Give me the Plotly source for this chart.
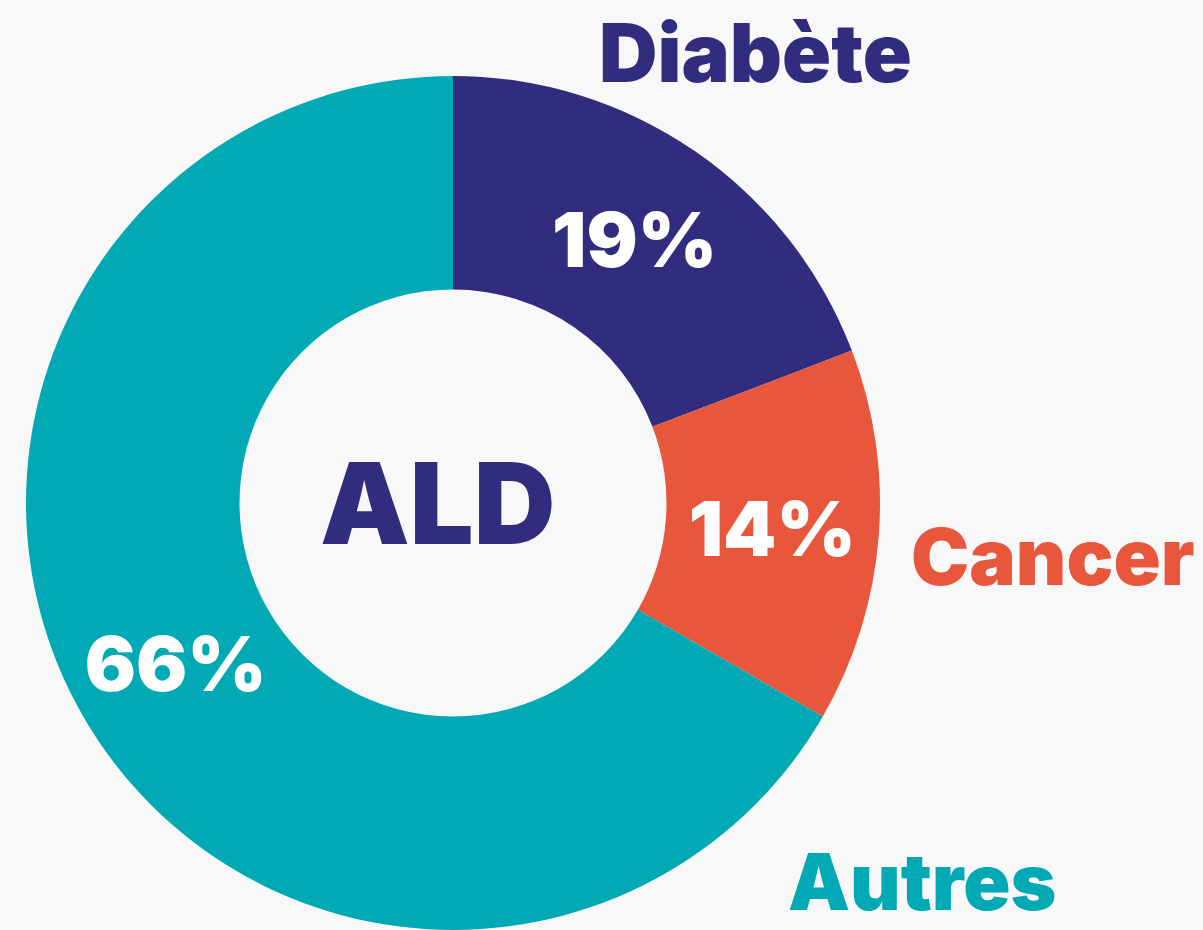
import plotly.graph_objects as go

categories = ["Diabète", "Cancer", "Autres"]
values = [19, 14, 66]
pct_labels = ["19%", "14%", "66%"]
colors = ["#322C7E", "#E8563C", "#00A9B4"]

W, H = 1203, 930
cx, cy, r = 453, 503, 427
FAM = "Inter"
WT = 900

fig = go.Figure(go.Pie(
    labels=categories,
    values=values,
    text=pct_labels,
    textinfo="text",
    textposition="inside",
    insidetextorientation="horizontal",
    hole=0.5,
    sort=False,
    direction="clockwise",
    rotation=0,
    marker=dict(colors=colors, line=dict(width=0)),
    textfont=dict(family=FAM, size=76, color="white", weight=WT),
    domain=dict(x=[(cx - r) / W, (cx + r) / W], y=[0, 2 * r / H]),
    showlegend=False,
    hoverinfo="label+text",
))

annots = [
    dict(text="ALD", x=437 / W, y=1 - 503 / H, size=113, color=colors[0]),
    dict(text=categories[0], x=755 / W, y=1 - 53 / H, size=81, color=colors[0]),
    dict(text=categories[1], x=1053 / W, y=1 - 556 / H, size=78, color=colors[1]),
    dict(text=categories[2], x=922 / W, y=1 - 881 / H, size=78, color=colors[2]),
]
fig.update_layout(
    width=W, height=H,
    margin=dict(l=0, r=0, t=0, b=0),
    paper_bgcolor="#F8F8F9",
    plot_bgcolor="#F8F8F9",
    annotations=[
        dict(text=a["text"], x=a["x"], y=a["y"], xref="paper", yref="paper",
             xanchor="center", yanchor="middle", showarrow=False,
             font=dict(family=FAM, weight=WT, size=a["size"], color=a["color"]))
        for a in annots
    ],
)
fig.write_html("out.html",
               config={"displayModeBar": False},
               post_script="document.body.style.margin='0';document.body.style.overflow='hidden';")
